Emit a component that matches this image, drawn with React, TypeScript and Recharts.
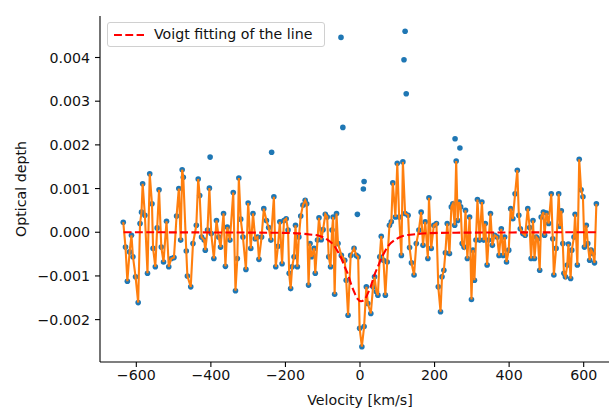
import { ComposedChart, XAxis, YAxis, Line, Scatter } from 'recharts';

// velocity channels [km/s] and optical depth (units of 1e-3) of the smoothed spectrum
const VELOCITY = [
  -635, -629, -624, -618, -613, -609, -602, -595, -590, -586, -583, -577, -570, -564, -558, -555, -549, -544,
  -539, -533, -527, -519, -513, -506, -499, -492, -486, -481, -477, -474, -466, -463, -454, -448, -439, -434,
  -430, -425, -418, -415, -409, -404, -399, -392, -385, -379, -374, -366, -361, -356, -349, -340, -334, -329,
  -325, -320, -314, -306, -300, -293, -287, -281, -275, -271, -264, -258, -251, -245, -239, -231, -226, -220,
  -215, -209, -204, -198, -193, -190, -186, -182, -177, -173, -168, -164, -159, -153, -147, -143, -138, -134,
  -130, -123, -120, -114, -110, -104, -99, -93, -88, -84, -79, -75, -72, -68, -63, -59, -50, -41, -37, -32,
  -25, -16, -10, -5, -1, 5, 11, 17, 21, 29, 35, 39, 44, 48, 53, 57, 63, 68, 73, 79, 84, 88, 95, 100, 105,
  111, 115, 121, 129, 133, 138, 145, 151, 158, 164, 169, 175, 182, 185, 191, 198, 205, 210, 216,
  220, 225, 229, 234, 240, 245, 249, 254, 258, 262, 266, 270, 274, 279, 283, 288, 294, 299, 303, 307, 311,
  315, 321, 327, 332, 336, 341, 345, 350, 355, 361, 368, 373, 379, 384, 388, 393, 399, 404, 410, 416, 422,
  426, 430, 437, 443, 450, 455, 459, 464, 468, 473, 477, 482, 486, 492, 495, 500, 506, 513, 517, 520, 526,
  533, 536, 540, 544, 547, 551, 556, 559, 565, 568, 574, 577, 583, 588, 593, 598, 602, 607, 611, 616, 620,
  625, 629, 634,
];
const TAU = [
  0.23, -0.34, -1.12, -0.45, -0.07, -0.56, -1.02, -1.61, 0.2, 0.46, 1.11, 0.39, -0.94, 1.34, 0.65, -0.37, -0.79, 0.1,
  0.97, -0.34, -0.68, 0.25, -0.79, -0.6, -0.58, 0.37, 1.0, -0.18, 1.43, 1.26, -0.43, -1.0, -1.25, -0.26, 0.16, 1.22,
  0.84, -0.11, -0.18, -0.41, 0.05, 1.01, -0.03, -0.6, 0.27, -0.11, -0.34, 0.43, -0.78, 0.12, -0.18, 0.91, -1.34, -0.6,
  1.24, 0.3, -0.11, -0.85, 0.67, -0.37, 0.43, -0.15, -0.11, -0.62, -0.11, 0.54, 0.27, 0.11, -0.18, 0.81, -0.79, -0.32,
  0.24, -0.72, 0.27, 0.31, 0.05, -0.94, -1.29, -0.79, -0.56, 0.16, -0.79, -0.11, 0.37, 0.62, 0.73, 0.65, -1.21, -0.26,
  -0.56, -0.37, -0.94, -0.18, 0.33, -0.17, 0.06, 0.41, 0.35, -0.56, -0.79, 0.05, 0.35, -1.42, 0.43, -0.26, -0.53, -0.64, -1.1, -1.9,
  -0.53, -0.37, -0.53, -0.56, -2.2, -2.62, -2.16, -1.25, -1.63, -1.86, -1.25, -1.02, -1.36, -1.44, -0.56, -0.09, -0.64, -1.44, -0.68, 0.16, 0.24, 1.13, 0.35, 1.58, 0.35,
  -0.53, 1.61, 0.43, 0.39, -0.35, -0.7, -0.98, -0.26, 0.05, 0.46, -0.3, 0.24, -0.6, 0.79, -0.37, 0.16, 0.2, -1.25, -1.82,
  -1.02, -0.87, -0.47, 0.2, -0.49, 0.58, 0.65, 0.16, 1.63, 0.27, 0.69, 0.58, -0.26, -0.34, 0.5, -0.6, 0.35, -1.54, -0.41, -1.1, -0.18,
  0.75, -0.18, 0.69, -0.18, 0.2, -0.75, -0.18, 0.43, -0.3, -0.07, -0.11, -0.53, 0.08, -0.53, -0.11, -0.68, -0.41, 0.54, 0.31, 0.88, 1.42,
  0.39, 0.08, -0.03, -0.07, 0.54, 0.11, -0.6, 0.27, -0.6, -0.11, -0.15, -0.87, 0.35, 0.46, -0.07, 0.44, 0.2, 0.88, -0.15, -0.98, -0.37,
  0.88, 0.14, 0.49, -0.26, -0.94, -1.02, -0.75, -0.27, -1.06, -0.41, -0.11, 0.41, -0.75, 1.67, 0.97, 0.81, -0.34, 0.16, -0.26, -0.64, -0.41,
  -0.49, -0.7, 0.65,
];

// channels masked out of the line (shown as dots only)
const OUTLIER_VELOCITY = [-402, -237, -51, -46, -7, 9, 11, 118, 121, 124, 255, 268];
const OUTLIER_TAU = [1.72, 1.83, 4.46, 2.4, 0.41, 0.99, 1.16, 3.95, 4.6, 3.17, 2.14, 1.93];

// Voigt profile fit
const FIT_VELOCITY = [
  -634, -250, -180, -135, -110, -86, -70, -59, -50, -41, -32, -23, -14, -7, 3, 14, 21, 30, 39, 48, 57, 66, 77,
  93, 117, 142, 187, 257, 634,
];
const FIT_TAU = [
  0, -0.01, -0.02, -0.05, -0.08, -0.18, -0.3, -0.45, -0.6, -0.79, -0.97, -1.21, -1.4, -1.52, -1.58, -1.52, -1.4,
  -1.21, -0.97, -0.79, -0.6, -0.45, -0.3, -0.18, -0.08, -0.05, -0.02, -0.01, 0,
];

const X_TICKS = [-600, -400, -200, 0, 200, 400, 600];
const Y_TICKS = [-2, -1, 0, 1, 2, 3, 4];

const FONT = '"DejaVu Sans", sans-serif';
const FONT_SIZE = 14.2;
const TEXT = '#111';

const lineData = VELOCITY.map((v, i) => ({ v, tau: TAU[i] }));
const scatterData = [
  ...lineData,
  ...OUTLIER_VELOCITY.map((v, i) => ({ v, tau: OUTLIER_TAU[i] })),
].sort((a, b) => a.v - b.v);
const fitData = FIT_VELOCITY.map((v, i) => ({ v, tau: FIT_TAU[i] }));

const minus = (s: string) => s.replace('-', '\u2212');
const fmtX = (t: number) => minus(String(t));
const fmtY = (t: number) => minus((t / 1000).toFixed(3));

const Dot = (p: any) => <circle cx={p.cx} cy={p.cy} r={2.8} fill="#1f77b4" />;

export default function App() {
  return (
    <div
      style={{
        position: 'absolute',
        left: 0,
        top: 0,
        width: 609,
        height: 408,
        overflow: 'hidden',
        background: '#fff',
        fontFamily: FONT,
      }}
    >
      <ComposedChart
        width={630}
        height={408}
        margin={{ top: 16, right: 10, bottom: 0, left: 0 }}
        style={{ fontFamily: FONT }}
      >
        <XAxis
          xAxisId="top"
          orientation="top"
          type="number"
          domain={[-697.4, 697.4]}
          height={0}
          tick={false}
          tickLine={false}
          axisLine={{ stroke: '#000', strokeWidth: 1.1 }}
        />
        <XAxis
          type="number"
          dataKey="v"
          domain={[-697.4, 697.4]}
          ticks={X_TICKS}
          tickFormatter={fmtX}
          allowDataOverflow
          height={46}
          tickSize={5}
          tickMargin={3}
          axisLine={{ stroke: '#000', strokeWidth: 1.1 }}
          tickLine={{ stroke: '#000', strokeWidth: 1.1 }}
          tick={{ fill: TEXT, fontSize: FONT_SIZE }}
          label={{
            value: 'Velocity [km/s]',
            position: 'insideBottom',
            offset: 3,
            fill: TEXT,
            fontSize: FONT_SIZE,
          }}
        />
        <YAxis
          type="number"
          dataKey="tau"
          domain={[-2.97, 4.95]}
          ticks={Y_TICKS}
          tickFormatter={fmtY}
          allowDataOverflow
          width={100}
          tickSize={5}
          tickMargin={5}
          axisLine={{ stroke: '#000', strokeWidth: 1.1 }}
          tickLine={{ stroke: '#000', strokeWidth: 1.1 }}
          tick={{ fill: TEXT, fontSize: FONT_SIZE }}
          label={{
            value: 'Optical depth',
            angle: -90,
            position: 'insideLeft',
            offset: 21,
            fill: TEXT,
            fontSize: FONT_SIZE,
            style: { textAnchor: 'middle' },
          }}
        />
        {/* zIndex below the lines so the orange trace covers the markers */}
        <Scatter data={scatterData} dataKey="tau" shape={Dot} zIndex={350} isAnimationActive={false} />
        <Line
          data={lineData}
          dataKey="tau"
          type="linear"
          stroke="#ff7f0e"
          strokeWidth={2.1}
          dot={false}
          activeDot={false}
          isAnimationActive={false}
        />
        <Line
          data={fitData}
          dataKey="tau"
          type="monotone"
          stroke="#ff0000"
          strokeWidth={2.1}
          strokeDasharray="7.9 3.4"
          dot={false}
          activeDot={false}
          isAnimationActive={false}
        />
      </ComposedChart>
      <div
        style={{
          position: 'absolute',
          left: 107,
          top: 22,
          width: 218,
          height: 25,
          boxSizing: 'border-box',
          border: '1px solid #d0d0d0',
          borderRadius: 3,
          background: 'rgba(255,255,255,0.8)',
        }}
      >
        <svg width={40} height={23} style={{ position: 'absolute', left: 5, top: 0 }}>
          <line x1={1} y1={12} x2={31} y2={12} stroke="#ff0000" strokeWidth={2.1} strokeDasharray="7.9 3.4" />
        </svg>
        <span
          style={{
            position: 'absolute',
            left: 46,
            top: 3,
            fontSize: FONT_SIZE,
            lineHeight: '17px',
            color: TEXT,
            whiteSpace: 'nowrap',
          }}
        >
          Voigt fitting of the line
        </span>
      </div>
    </div>
  );
}
